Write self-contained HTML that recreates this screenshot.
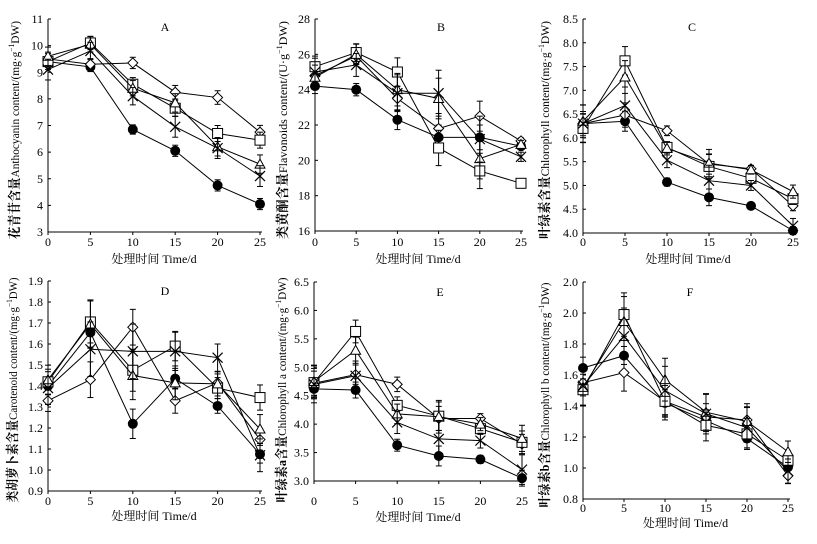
<!DOCTYPE html>
<html><head><meta charset="utf-8">
<style>
html,body{margin:0;padding:0;background:#fff;}
svg{display:block;font-family:"Liberation Serif","Noto Serif CJK SC",serif;}
</style></head>
<body>
<svg id="fig" width="817" height="544" viewBox="0 0 817 544"></svg>
<script>
const days = [0,5,10,15,20,25];
const xTickLabels = ["0","5","10","15","20","25"];
// Panel A
const aTicks = [3,4,5,6,7,8,9,10,11];
const aCircle = [9.4,9.2,6.85,6.05,4.75,4.05];
const aDiamond = [9.5,9.3,9.35,8.25,8.05,6.75];
const aSquare = [9.4,10.1,8.55,7.65,6.7,6.45];
const aTriangle = [9.6,10.05,8.4,7.85,6.2,5.55];
const aCross = [9.1,9.8,8.1,6.95,6.15,5.1];
const aErr = [0.3,0.25,0.25,0.3,0.3,0.3];
// Panel B
const bTicks = [16,18,20,22,24,26,28];
const bCircle = [24.2,24.0,22.3,21.3,21.3,20.8];
const bDiamond = [24.8,25.9,23.5,21.8,22.5,21.1];
const bSquare = [25.3,26.1,25.0,20.7,19.4,18.7];
const bTriangle = [24.7,26.0,24.0,23.5,20.1,20.9];
const bCross = [25.0,25.4,23.8,23.8,21.2,20.2];
const bErr = [0.6,0.5,0.8,1.0,1.0,0.2];
// Panel C
const cTicks = [4.0,4.5,5.0,5.5,6.0,6.5,7.0,7.5,8.0,8.5];
const cCircle = [6.3,6.35,5.07,4.75,4.57,4.05];
const cDiamond = [6.3,6.48,6.15,5.45,5.35,4.57];
const cSquare = [6.2,7.62,5.8,5.4,5.15,4.72];
const cTriangle = [6.35,7.28,5.78,5.47,5.33,4.87];
const cCross = [6.3,6.68,5.53,5.1,5.0,4.15];
const cErr = [0.3,0.3,0.12,0.25,0.08,0.12];
// Panel D
const dTicks = [0.9,1.0,1.1,1.2,1.3,1.4,1.5,1.6,1.7,1.8,1.9];
const dCircle = [1.40,1.655,1.22,1.435,1.305,1.075];
const dDiamond = [1.33,1.43,1.68,1.33,1.415,1.145];
const dSquare = [1.42,1.705,1.475,1.59,1.39,1.345];
const dTriangle = [1.43,1.695,1.45,1.415,1.41,1.195];
const dCross = [1.39,1.575,1.565,1.565,1.535,1.07];
const dErr = [0.06,0.1,0.1,0.07,0.05,0.06];
// Panel E
const eTicks = [3.0,3.5,4.0,4.5,5.0,5.5,6.0,6.5];
const eCircle = [4.62,4.6,3.63,3.44,3.38,3.05];
const eDiamond = [4.72,4.87,4.7,4.1,4.1,3.65];
const eSquare = [4.73,5.63,4.33,4.14,3.92,3.68];
const eTriangle = [4.75,5.3,4.18,4.13,4.0,3.75];
const eCross = [4.7,4.85,4.03,3.74,3.71,3.2];
const eErr = [0.25,0.2,0.15,0.25,0.1,0.2];
// Panel F
const fTicks = [0.8,1.0,1.2,1.4,1.6,1.8,2.0,2.2];
const fTickLabels = ["0.8","1.0","1.2","1.4","1.6","1.8","2.0","2.0"];
const fCircle = [1.645,1.725,1.42,1.305,1.19,1.005];
const fDiamond = [1.55,1.615,1.43,1.33,1.31,0.95];
const fSquare = [1.505,1.99,1.43,1.275,1.22,1.05];
const fTriangle = [1.52,1.945,1.57,1.36,1.3,1.105];
const fCross = [1.53,1.85,1.5,1.35,1.26,0.98];
const fErr = [0.1,0.14,0.12,0.1,0.1,0.06];

const NS="http://www.w3.org/2000/svg";
const svg=document.getElementById('fig');
function mk(tag,attrs,parent){const e=document.createElementNS(NS,tag);for(const k in attrs)e.setAttribute(k,attrs[k]);(parent||svg).appendChild(e);return e;}

const panels=[
 {id:'a',L:'A',x0:48,x1:260,yT:19,yB:232,ticks:aTicks,labels:aTicks.map(String),series:[aCircle,aDiamond,aSquare,aTriangle,aCross],err:aErr,lx:165,ly:31,tx:19,ty:130,tl:218,zh:'花青苷含量',en:'Anthocyanin content/(mg·g',xl:246,xt:263},
 {id:'b',L:'B',x0:315,x1:521,yT:19,yB:231,ticks:bTicks,labels:bTicks.map(String),series:[bCircle,bDiamond,bSquare,bTriangle,bCross],err:bErr,lx:441,ly:31,tx:287,ty:130,tl:218,zh:'类黄酮含量',en:'Flavonoids content/(U·g',xl:246,xt:263},
 {id:'c',L:'C',x0:583,x1:793,yT:19,yB:233,ticks:cTicks,labels:cTicks.map(v=>v.toFixed(1)),series:[cCircle,cDiamond,cSquare,cTriangle,cCross],err:cErr,lx:692,ly:31,tx:549,ty:130,tl:218,zh:'叶绿素含量',en:'Chlorophyll content/(mg·g',xl:246,xt:263},
 {id:'d',L:'D',x0:48,x1:260,yT:281,yB:491,ticks:dTicks,labels:dTicks.map(v=>v.toFixed(1)),series:[dCircle,dDiamond,dSquare,dTriangle,dCross],err:dErr,lx:165,ly:295,tx:17,ty:390,tl:225,zh:'类胡萝卜素含量',en:'Carotenoid content/(mg·g',xl:505,xt:520},
 {id:'e',L:'E',x0:314,x1:522,yT:282,yB:481,ticks:eTicks,labels:eTicks.map(v=>v.toFixed(1)),series:[eCircle,eDiamond,eSquare,eTriangle,eCross],err:eErr,lx:440,ly:296,tx:286,ty:390,tl:225,zh:'叶绿素a含量',en:'Chlorophyll a content/(mg·g',xl:505,xt:521},
 {id:'f',L:'F',x0:583,x1:788,yT:282,yB:499,ticks:fTicks,labels:fTickLabels,series:[fCircle,fDiamond,fSquare,fTriangle,fCross],err:fErr,lx:690,ly:296,tx:549,ty:395,tl:225,zh:'叶绿素b含量',en:'Chlorophyll b content/(mg·g',xl:512,xt:527}
];
const seriesNames=['circle','diamond','square','triangle','cross'];

panels.forEach(p=>{
 const g=mk('g',{});
 
 
 const tmin=p.ticks[0],tmax=p.ticks[p.ticks.length-1];
 const X=d=>p.x0+(d-days[0])/(days[days.length-1]-days[0])*(p.x1-p.x0);
 const Y=v=>p.yB-(v-tmin)/(tmax-tmin)*(p.yB-p.yT);
 const ya=mk('line',{x1:p.x0,y1:p.yT,x2:p.x0,y2:p.yB,stroke:'#000','stroke-width':1},g);
 
 const xa=mk('line',{x1:p.x0,y1:p.yB,x2:p.x1+2,y2:p.yB,stroke:'#000','stroke-width':1},g);
 
 p.ticks.forEach((t,i)=>{
  mk('line',{x1:p.x0,y1:Y(t),x2:p.x0+3,y2:Y(t),stroke:'#000'},g);
  const tl=mk('text',{x:p.x0-5,y:Y(t)+4,'text-anchor':'end','font-size':12},g);
  tl.textContent=p.labels[i];
  
 });
 days.forEach((d,i)=>{
  mk('line',{x1:X(d),y1:p.yB,x2:X(d),y2:p.yB+3,stroke:'#000'},g);
  const tl=mk('text',{x:X(d),y:p.xl,'text-anchor':'middle','font-size':12},g);
  tl.textContent=xTickLabels[i];
  
 });
 const pl=mk('text',{x:p.lx,y:p.ly,'text-anchor':'middle','font-size':12},g);
 pl.textContent=p.L;
 
 const xt=mk('text',{x:(p.x0+p.x1)/2,y:p.xt,'text-anchor':'middle','font-size':12},g);
 xt.textContent='处理时间 Time/d';
 
 const yt=mk('text',{x:0,y:0,'text-anchor':'middle','font-size':12,textLength:p.tl,lengthAdjust:'spacingAndGlyphs',transform:`translate(${p.tx},${p.ty}) rotate(-90)`},g);
 
 const s1=mk('tspan',{'font-size':13,'font-weight':'bold'},yt);s1.textContent=p.zh;
 const s2=mk('tspan',{},yt);s2.textContent=p.en;
 const s3=mk('tspan',{dy:-5,'font-size':8},yt);s3.textContent='−1';
 const s4=mk('tspan',{dy:5},yt);s4.textContent='DW)';
 p.series.forEach((vals,si)=>{
  const sg=mk('g',{},g);
  
  
  const pts=vals.map((v,i)=>X(days[i])+','+Y(v)).join(' ');
  mk('polyline',{points:pts,fill:'none',stroke:'#000','stroke-width':1},sg);
  vals.forEach((v,i)=>{
   const cx=X(days[i]),cy=Y(v),e=p.err[i]*(0.7+0.15*si),y1=Y(v+e),y2=Y(v-e);
   mk('line',{x1:cx,y1:y1,x2:cx,y2:y2,stroke:'#000','stroke-width':1},sg);
   mk('line',{x1:cx-3,y1:y1,x2:cx+3,y2:y1,stroke:'#000'},sg);
   mk('line',{x1:cx-3,y1:y2,x2:cx+3,y2:y2,stroke:'#000'},sg);
   let m;
   if(si===0)m=mk('circle',{cx:cx,cy:cy,r:5,fill:'#000'},sg);
   else if(si===1)m=mk('polygon',{points:`${cx},${cy-5} ${cx+5},${cy} ${cx},${cy+5} ${cx-5},${cy}`,fill:'#fff',stroke:'#000'},sg);
   else if(si===2)m=mk('rect',{x:cx-5,y:cy-5,width:10,height:10,fill:'#fff',stroke:'#000'},sg);
   else if(si===3)m=mk('polygon',{points:`${cx},${cy-5} ${cx+5},${cy+4} ${cx-5},${cy+4}`,fill:'#fff',stroke:'#000'},sg);
   else m=mk('path',{d:`M${cx-5},${cy-5}L${cx+5},${cy+5}M${cx+5},${cy-5}L${cx-5},${cy+5}`,stroke:'#000','stroke-width':1.2},sg);
   
   
  });
 });
});
</script>
</body></html>
